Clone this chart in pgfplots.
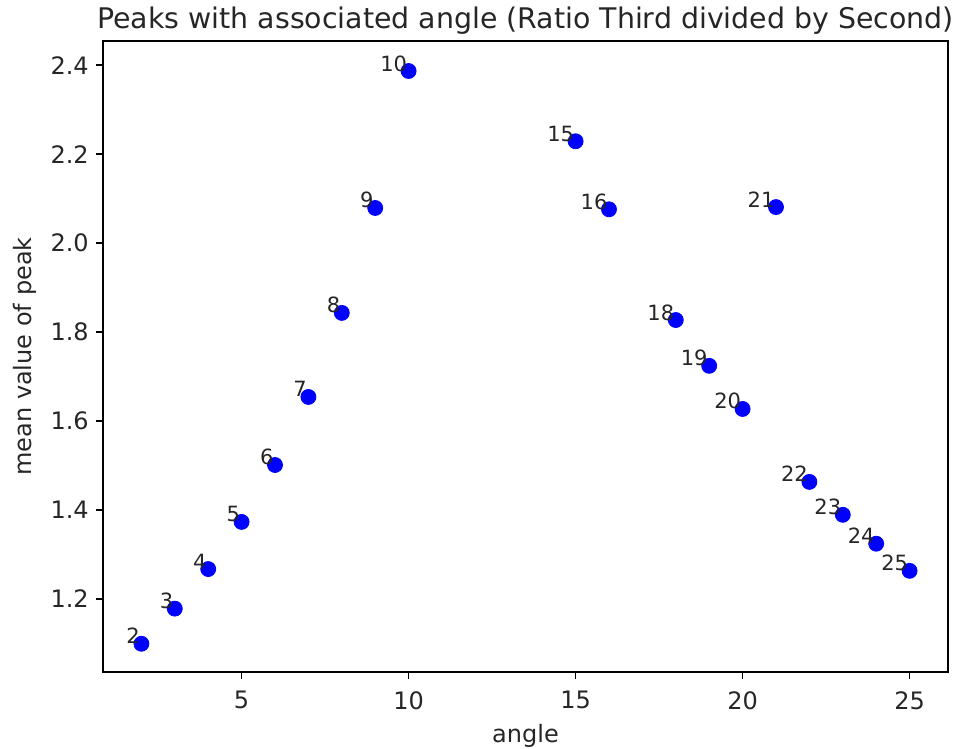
\documentclass[border=0pt]{standalone}
\usepackage{fontspec}
\setmainfont{DejaVu Sans}
\usepackage{pgfplots}
\pgfplotsset{compat=1.18}
\begin{document}
\begin{tikzpicture}[x=1pt,y=1pt]
\begin{axis}[
  at={(0,0)}, anchor=south west,
  scale only axis, width=422.5pt, height=315.5pt,
  xmin=0.85, xmax=26.15, ymin=1.0355, ymax=2.4545,
  xtick={5,10,15,20,25}, ytick={1.2,1.4,1.6,1.8,2.0,2.2,2.4},
  yticklabel style={/pgf/number format/fixed, /pgf/number format/precision=1, /pgf/number format/fixed zerofill},
  /pgf/number format/assume math mode=true,
  tick align=outside, xtick pos=bottom, ytick pos=left,
  major tick length=3.6pt,
  axis line style={line width=0.8pt},
  every tick/.style={line width=0.8pt, black},
  tick label style={font=\fontsize{12}{14}\selectfont, text=black!85},
  xticklabel style={yshift=-2.5pt},
  label style={font=\fontsize{12}{14}\selectfont, text=black!85},
  title style={font=\fontsize{14.2}{17}\selectfont, text=black!85, at={(axis description cs:0.5,1)}, anchor=base, yshift=0pt},
  title={Peaks with associated angle (Ratio Third divided by Second)},
  xlabel={angle}, ylabel={mean value of peak},
  xlabel style={at={(axis description cs:0.5,-0.1014)}, anchor=center},
  ylabel style={at={(axis description cs:-0.0923,0.5)}, anchor=center},
  point meta=x,
  nodes near coords={\pgfmathprintnumber{\pgfplotspointmeta}},
  nodes near coords style={anchor=base east, inner sep=0.6pt, font=\fontsize{10.5}{12}\selectfont, text=black!85},
]
\addplot[only marks, mark=*, mark size=3.75pt, mark options={draw=blue, fill=blue}] coordinates {
(2,1.099) (3,1.178) (4,1.267) (5,1.373) (6,1.501) (7,1.654) (8,1.843) (9,2.079) (10,2.387)
(15,2.229) (16,2.076) (18,1.827) (19,1.724) (20,1.627) (21,2.081) (22,1.463) (23,1.389) (24,1.324) (25,1.263)
};
\end{axis}
\pgfresetboundingbox
\path[use as bounding box] (-51.5,-38.5) rectangle (427.5,336);
\end{tikzpicture}
\end{document}
